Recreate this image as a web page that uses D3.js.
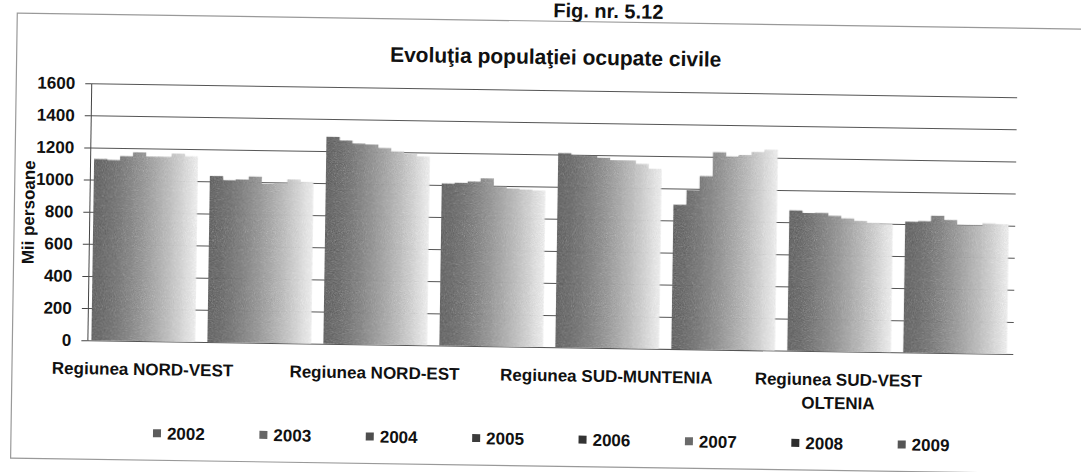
<!DOCTYPE html>
<html>
<head>
<meta charset="utf-8">
<script src="https://cdn.jsdelivr.net/npm/d3@7"></script>
<style>
    body { margin: 0; background: #fff; }
    svg { display: block; }
    text { font-family: "Liberation Sans", Arial, sans-serif; font-weight: bold; fill: #111; }
</style>
</head>
<body>
<svg id="chart" width="1081" height="472"></svg>
<script>
// values, in thousands of persons
const years = ["2002", "2003", "2004", "2005", "2006", "2007", "2008", "2009"];
const regions = ["Regiunea NORD-VEST", "Regiunea CENTRU", "Regiunea NORD-EST", "Regiunea SUD-EST",
    "Regiunea SUD-MUNTENIA", "Regiunea BUCUREŞTI-ILFOV", "Regiunea SUD-VEST OLTENIA", "Regiunea VEST"];
const yTicks = [0, 200, 400, 600, 800, 1000, 1200, 1400, 1600];

const v2002 = [1130, 1035, 1290, 1010, 1210, 900, 875, 815];
const v2003 = [1125, 1010, 1268, 1015, 1195, 990, 860, 820];
const v2004 = [1150, 1015, 1250, 1025, 1195, 1080, 862, 855];
const v2005 = [1175, 1035, 1245, 1045, 1185, 1230, 845, 830];
const v2006 = [1150, 990, 1225, 995, 1170, 1205, 830, 800];
const v2007 = [1150, 995, 1205, 985, 1170, 1215, 815, 800];
const v2008 = [1170, 1020, 1190, 980, 1150, 1235, 805, 812];
const v2009 = [1155, 1005, 1175, 975, 1120, 1250, 800, 808];
const series = [v2002, v2003, v2004, v2005, v2006, v2007, v2008, v2009];

const svg = d3.select("#chart");
svg.append("rect").attr("width", 1081).attr("height", 472).attr("fill", "#fff");

const defs = svg.append("defs");

// grey shades, dark on the left of a cluster fading to near white
const shade = t => d3.interpolateRgb("#858585", "#f6f6f6")(Math.pow(t, 1.5));
years.forEach((y, i) => {
    let g = defs.append("linearGradient").attr("id", "grad" + i)
        .attr("x1", 0).attr("x2", 1).attr("y1", 0).attr("y2", 0);
    g.append("stop").attr("offset", 0).attr("stop-color", shade(i / 8));
    g.append("stop").attr("offset", 1).attr("stop-color", shade((i + 1) / 8));
});

// scanned grain
const f = defs.append("filter").attr("id", "grain")
    .attr("x", 0).attr("y", 0).attr("width", 1).attr("height", 1);
f.append("feTurbulence").attr("type", "fractalNoise").attr("baseFrequency", 0.9)
    .attr("numOctaves", 2).attr("seed", 4).attr("result", "noise");
f.append("feColorMatrix").attr("in", "noise").attr("type", "saturate").attr("values", 0).attr("result", "gnoise");
f.append("feComposite").attr("in", "SourceGraphic").attr("in2", "gnoise").attr("operator", "arithmetic")
    .attr("k1", 0).attr("k2", 1).attr("k3", 0.4).attr("k4", -0.2).attr("result", "mix");
f.append("feComposite").attr("in", "mix").attr("in2", "SourceGraphic").attr("operator", "in");

// the page was scanned slightly tilted
const root = svg.append("g").attr("transform", "rotate(0.86,540,236)");

// outer frame
root.append("rect")
    .attr("x", 14).attr("y", 21).attr("width", 1100).attr("height", 445)
    .attr("fill", "none").attr("stroke", "#999").attr("stroke-width", 1.2);

root.append("text")
    .attr("x", 605).attr("y", 17)
    .attr("text-anchor", "middle")
    .style("font-size", "20px")
    .text("Fig. nr. 5.12");

root.append("text")
    .attr("x", 553).attr("y", 64)
    .attr("text-anchor", "middle")
    .style("font-size", "21px")
    .text("Evoluţia populaţiei ocupate civile");

const left = 89, right = 1015;

const x0 = d3.scaleBand().domain(regions).range([93, 1008]).paddingInner(0.11).paddingOuter(0);
const x1 = d3.scaleBand().domain(years).range([0, x0.bandwidth()]);
const y = d3.scaleLinear().domain([0, 1600]).range([347, 90]);

// gridlines
root.append("g")
    .attr("transform", "translate(" + left + ",0)")
    .call(d3.axisLeft(y).tickValues(yTicks).tickSize(-(right - left)).tickFormat(""))
    .call(g => g.select(".domain").remove())
    .call(g => g.selectAll("line").attr("stroke", "#555"));

// bars
const data = regions.map((r, ri) => years.map((yr, yi) => ({ region: r, year: yr, i: yi, value: series[yi][ri] })));

root.append("g")
    .attr("filter", "url(#grain)")
    .selectAll("g")
    .data(data)
    .enter()
    .append("g")
    .attr("transform", d => "translate(" + x0(d[0].region) + ",0)")
    .selectAll("rect")
    .data(d => d)
    .enter()
    .append("rect")
    .attr("x", d => x1(d.year))
    .attr("y", d => y(d.value))
    .attr("width", x1.bandwidth() + 0.6)
    .attr("height", d => y(0) - y(d.value))
    .attr("fill", d => "url(#grad" + d.i + ")");

// value axis
root.append("g")
    .attr("transform", "translate(" + left + ",0)")
    .call(d3.axisLeft(y).tickValues(yTicks).tickFormat(d3.format("d"))
        .tickSizeInner(6).tickSizeOuter(0).tickPadding(10))
    .call(g => g.select(".domain").attr("stroke", "#444"))
    .call(g => g.selectAll("line").attr("stroke", "#444"))
    .call(g => g.selectAll("text").style("font-size", "17px").attr("fill", "#111"));

root.append("text")
    .attr("transform", "translate(34,220) rotate(-90)")
    .attr("text-anchor", "middle")
    .style("font-size", "17px")
    .text("Mii persoane");

// category axis, Excel only had room for every other label
function wrap(text, width) {
    text.each(function () {
        let t = d3.select(this);
        let words = t.text().split(" ");
        if (words.length < 2) return;
        let yy = t.attr("y"), dy = parseFloat(t.attr("dy"));
        t.text(null);
        let line = [], lineNo = 0;
        let tspan = t.append("tspan").attr("x", 0).attr("y", yy).attr("dy", dy + "em");
        words.forEach(w => {
            line.push(w);
            tspan.text(line.join(" "));
            if (tspan.node().getComputedTextLength() > width && line.length > 1) {
                line.pop();
                tspan.text(line.join(" "));
                line = [w];
                lineNo++;
                tspan = t.append("tspan").attr("x", 0).attr("y", yy)
                    .attr("dy", (lineNo * 1.38 + dy) + "em").text(w);
            }
        });
    });
}

root.append("g")
    .attr("transform", "translate(0," + y(0) + ")")
    .call(d3.axisBottom(x0).tickSize(0).tickPadding(22).tickFormat((d, i) => i % 2 ? "" : d))
    .call(g => g.select(".domain").remove())
    .call(g => g.selectAll("text").style("font-size", "17px").attr("fill", "#111"))
    .selectAll("text")
    .call(wrap, 238);

// legend
const lx = 156, ly = 439, step = 106.4, size = 8;
const markColors = ["#5c5c5c", "#666", "#4e4e4e", "#3c3c3c", "#333", "#6a6a6a", "#2e2e2e", "#555"];
root.selectAll("leg_dots")
    .data(years)
    .enter()
    .append("rect")
    .attr("x", (d, i) => lx + i * step)
    .attr("y", ly - size / 2)
    .attr("width", size)
    .attr("height", size)
    .attr("fill", (d, i) => markColors[i]);

root.selectAll("leg_labels")
    .data(years)
    .enter()
    .append("text")
    .attr("x", (d, i) => lx + i * step + size + 6)
    .attr("y", ly + 6)
    .style("font-size", "17px")
    .text(d => d);
</script>
</body>
</html>
